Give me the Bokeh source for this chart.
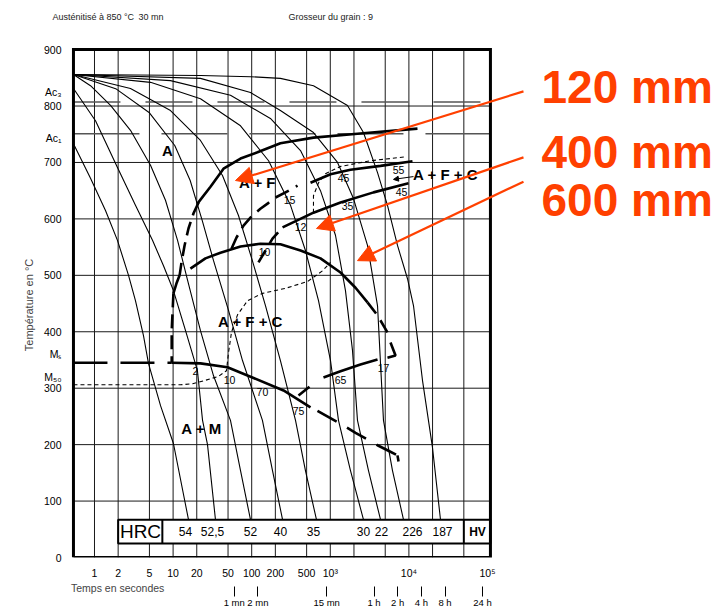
from bokeh.plotting import figure
from bokeh.models import Range1d, FixedTicker, LogAxis, Label, Arrow, NormalHead
from bokeh.core.properties import value
from bokeh.embed import file_html
from bokeh.resources import INLINE

FONT = "Liberation Sans"
RED = "#FF4000"
NBSP = "\u00a0"

# ---------------- data ----------------
# chart box (time s, temperature °C)
t_min, t_max = 0.54, 1.09e5
T_min, T_max = 0, 900

# cooling curves (time s, temperature °C), named by final hardness
c54_t = [0.54, 0.89, 1.38, 1.96, 2.71, 3.32, 4.20, 4.86, 6.92, 10.1, 15.7]
c54_T = [733, 672, 615, 562, 500, 455, 393, 344, 269, 202, 67]
c525_t = [0.54, 1.03, 1.96, 3.32, 5.47, 7.55, 10.1, 14.4, 20.4, 23.7, 27.4, 34.6]
c525_T = [831, 774, 691, 624, 562, 517, 473, 402, 331, 243, 200, 67]
c52_t = [0.54, 0.89, 1.6, 2.87, 5.16, 8.0, 11.4, 15.3, 22.3, 32.7, 53.7, 72.1, 96.5]
c52_T = [856, 836, 801, 757, 695, 633, 562, 491, 402, 322, 243, 154, 67]
c40_t = [0.54, 1.9, 5.0, 10.5, 16.5, 23.5, 32.7, 50.7, 76.4, 137, 184, 247]
c40_T = [856, 830, 788, 730, 668, 597, 526, 438, 349, 243, 154, 67]
c35_t = [0.54, 2.87, 9.27, 22.3, 42.5, 67.9, 102, 150, 232, 361, 483, 667]
c35_T = [856, 831, 792, 739, 677, 606, 526, 446, 349, 243, 154, 67]
c30_t = [0.54, 5.16, 22.3, 72.1, 164, 312, 483, 708, 1006, 1271, 1807, 2643]
c30_T = [856, 842, 813, 765, 703, 624, 544, 455, 349, 243, 154, 67]
c22_t = [0.54, 9.27, 53.7, 173, 418, 750, 1164, 1560, 1916, 2218, 3062, 4355]
c22_T = [856, 845, 819, 778, 721, 650, 571, 473, 367, 243, 154, 67]
c226_t = [0.54, 22.3, 96.5, 232, 611, 1236, 1973, 2974, 3990, 4750, 6185, 8536]
c226_T = [856, 849, 824, 792, 753, 700, 636, 553, 446, 243, 154, 67]
c187_t = [0.54, 22.3, 96.5, 232, 611, 1655, 2643, 3990, 5340, 7160, 9600, 11450, 14890, 19950, 25240]
c187_T = [856, 854, 852, 849, 836, 801, 753, 682, 624, 553, 494, 446, 314, 195, 67]
cooling = [(c54_t, c54_T), (c525_t, c525_T), (c52_t, c52_T), (c40_t, c40_T), (c35_t, c35_T),
           (c30_t, c30_T), (c22_t, c22_T), (c226_t, c226_T), (c187_t, c187_T)]

# transformation curves
fs_t = [20.4, 29.9, 43.8, 72.1, 118.5, 232, 611, 2218, 12860]
fs_T = [627, 657, 689, 707, 718, 734, 744, 751, 760]
nose_a_t = [21.1, 18.2, 15.7, 14.0, 12.8, 12.1]
nose_a_T = [629, 610, 583, 553, 523, 500]
nose_b_t = [12.1, 11.0, 10.1]
nose_b_T = [500, 485, 468]
nose_c_t = [10.1, 9.6, 9.6]
nose_c_T = [468, 402, 345]
b10_t = [16.6, 25.8, 40.1, 72.1, 129, 232, 418, 750, 1349, 2094, 2974]
b10_T = [512, 530, 540, 551, 556, 555, 544, 530, 505, 478, 452]
b10d_t = [2974, 3990, 5340]
b10d_T = [452, 429, 399]
corner_t = [5834, 6760, 5340]
corner_T = [381, 358, 354]
ms_dash_t = [0.54, 9.6]
ms_dash_T = [345, 345]
ms_t = [9.6, 22.3, 49.2, 102, 254, 560]
ms_T = [345, 344, 337, 319, 296, 266]
ms_tail_t = [687, 1349, 2094, 4105, 5340, 7160]
ms_tail_T = [260, 237, 221, 198, 190, 181]
ms_end_t = [7160, 7380]
ms_end_T = [181, 170]
c65d_t = [394, 611]
c65d_T = [287, 308]
c65_t = [819, 1349, 2421, 3990]
c65_T = [319, 330, 342, 351]
m50_t = [0.54, 12.4, 17.7, 25.8, 37.8, 47.8, 50.7, 55.3, 66, 88.5, 137, 269, 513, 796, 1006]
m50_T = [306, 306, 308, 314, 321, 331, 363, 399, 430, 455, 468, 477, 489, 508, 523]
pf_t = [611, 611, 708, 869, 1349, 3244, 9060]
pf_T = [611, 641, 664, 680, 693, 703, 710]
f15_t = [55.3, 64.1, 78.7, 102, 129, 159, 189, 269, 383]
f15_T = [547, 567, 588, 606, 618, 627, 636, 647, 659]
c12d_t = [122, 150, 184, 247]
c12d_T = [523, 544, 565, 585]
c12_t = [247, 611, 1349, 3548, 9890]
c12_T = [585, 611, 629, 647, 663]
c45_t = [560, 1006, 1807, 4355, 11110]
c45_T = [664, 679, 687, 694, 702]

# critical points
ac3_T = 807
ac1_T = 751

# small percentage labels inside the diagram
pct_t = [146, 303, 418, 1472, 1655, 7380, 8050, 19.3, 52.2, 137, 394, 1349, 4750]
pct_T = [542, 633, 585, 672, 622, 687, 647, 331, 315, 294, 260, 314, 335]
pct_txt = ["10", "15", "12", "45", "35", "55", "45", "2", "10", "70", "75", "65", "17"]

# phase region labels
reg_t = [8.49, 118.5, 29240, 96.5, 23]
reg_T = [721, 664, 679, 418, 229]
reg_txt = ["A", "A + F", "A + F + C", "A + F + C", "A + M"]

# hardness row
hrc_left, hrc_right, hrc_bottom, hrc_top = 2.0, 1.09e5, 25, 67
hrc_sep_t = [7.3, 50000]
hard_t = [14.4, 31.7, 96.5, 232, 611, 2643, 4480, 11110, 26740]
hard_txt = ["54", "52,5", "52", "40", "35", "30", "22", "226", "187"]
hard_y = 46

# axes / grid
x_ticks = [1, 2, 5, 10, 20, 50, 100, 200, 500, 1000, 10000, 100000]
x_tick_txt = ["1", "2", "5", "10", "20", "50", "100", "200", "500", "10³", "10⁴", "10⁵"]
x_grid = [1, 2, 5, 10, 20, 50, 100, 200, 500, 1000, 2000, 5000, 10000, 20000, 50000]
y_grid = [100, 200, 300, 400, 500, 600, 700, 800]
time_ticks = [60, 120, 900, 3600, 7200, 14400, 28800, 86400]
time_txt = ["1 mn", "2 mn", "15 mn", "1 h", "2 h", "4 h", "8 h", "24 h"]
y_ticks = [0, 100, 200, 300, 400, 500, 600, 700, 800, 900]
y_special = [824, 744, 361, 319]
y_special_txt = ["Ac₃", "Ac₁", "Mₛ", "M₅₀"]

# header
head_t = [0.292, 3.63, 294]
head_txt = ["Austénitisé à 850 °C", "30 mn", "Grosseur du grain : 9"]
head_T = 958

# red annotations: start (t, T) -> tip (t, T)
arr_t0 = [2.87e5, 2.87e5, 2.87e5]
arr_T0 = [826, 709, 666]
arr_t1 = [62.2, 667, 2218]
arr_T1 = [668, 583, 526]
big_txt = ["120 mm", "400 mm", "600 mm"]
big_t = [4.86e5, 4.86e5, 4.86e5]
big_T = [834, 719, 634]

# ---------------- figure ----------------
p = figure(width=724, height=610, x_axis_type="log",
           x_range=Range1d(0.2756, 1.036e8), y_range=Range1d(0, 987),
           output_backend="svg", toolbar_location=None,
           min_border_left=50, min_border_right=0, min_border_top=0, min_border_bottom=53)
p.background_fill_color = "white"
p.border_fill_color = "white"
p.outline_line_color = None
p.grid.grid_line_color = None

xa = p.xaxis[0]
xa.ticker = FixedTicker(ticks=x_ticks)
xa.major_label_overrides = {k: v for k, v in zip(x_ticks, x_tick_txt)}
xa.axis_line_color = None
xa.major_tick_out = 0
xa.major_tick_in = 0
xa.minor_tick_out = 0
xa.minor_tick_in = 0
xa.major_label_standoff = 9
xa.major_label_text_font = FONT
xa.major_label_text_font_size = "10.5px"
xa.major_label_text_color = "black"
xa.axis_label = "Temps en secondes" + NBSP * 185
xa.axis_label_text_font = FONT
xa.axis_label_text_font_size = "10.5px"
xa.axis_label_text_font_style = "normal"
xa.axis_label_standoff = 0

xa2 = LogAxis(ticker=FixedTicker(ticks=time_ticks),
              major_label_overrides={k: v for k, v in zip(time_ticks, time_txt)})
xa2.axis_line_color = None
xa2.major_tick_out = 0
xa2.major_tick_in = 10
xa2.minor_tick_out = 0
xa2.minor_tick_in = 0
xa2.major_tick_line_color = "black"
xa2.major_label_standoff = 0
xa2.major_label_text_font = FONT
xa2.major_label_text_font_size = "9.5px"
xa2.major_label_text_color = "black"
p.add_layout(xa2, "below")

ya = p.yaxis[0]
ya.ticker = FixedTicker(ticks=y_ticks + y_special)
ya.major_label_overrides = {k: v for k, v in zip(y_special, y_special_txt)}
ya.axis_line_color = None
ya.major_tick_out = 0
ya.major_tick_in = 0
ya.minor_tick_out = 0
ya.minor_tick_in = 0
ya.major_label_standoff = -11
ya.major_label_text_font = FONT
ya.major_label_text_font_size = "10.5px"
ya.major_label_text_color = "black"
ya.axis_label = "Température en °C" + NBSP * 17
ya.axis_label_text_font = FONT
ya.axis_label_text_font_size = "11px"
ya.axis_label_text_font_style = "normal"
ya.axis_label_standoff = 6

# grid inside the chart box
p.segment(x0=x_grid, y0=[T_min] * len(x_grid), x1=x_grid, y1=[T_max] * len(x_grid),
          line_color="#1a1a1a", line_width=1)
p.segment(x0=[t_min] * len(y_grid), y0=y_grid, x1=[t_max] * len(y_grid), y1=y_grid,
          line_color="#1a1a1a", line_width=1)

# critical temperature lines
p.line([t_min, t_max], [ac3_T, ac3_T], line_color="#555", line_width=1.5, line_dash="47 25")
p.line([t_min, t_max], [ac1_T, ac1_T], line_color="#555", line_width=1.5, line_dash="66 22")

# cooling curves
for ct, cT in cooling:
    p.line(ct, cT, line_color="black", line_width=1.1)

BOLD = 2.6
p.line(fs_t, fs_T, line_color="black", line_width=BOLD)
p.line(nose_a_t, nose_a_T, line_color="black", line_width=BOLD, line_dash="14 7")
p.line(nose_b_t, nose_b_T, line_color="black", line_width=BOLD)
p.line(nose_c_t, nose_c_T, line_color="black", line_width=BOLD, line_dash="14 7")
p.line(b10_t, b10_T, line_color="black", line_width=BOLD)
p.line(b10d_t, b10d_T, line_color="black", line_width=BOLD, line_dash="14 8")
p.line(corner_t, corner_T, line_color="black", line_width=BOLD)
p.line(ms_dash_t, ms_dash_T, line_color="black", line_width=BOLD, line_dash="34 13")
p.line(ms_t, ms_T, line_color="black", line_width=BOLD)
p.line(ms_tail_t, ms_tail_T, line_color="black", line_width=BOLD, line_dash="22 12")
p.line(ms_end_t, ms_end_T, line_color="black", line_width=BOLD)
p.line(c65d_t, c65d_T, line_color="black", line_width=BOLD, line_dash="14 8")
p.line(c65_t, c65_T, line_color="black", line_width=BOLD)
p.line(f15_t, f15_T, line_color="black", line_width=BOLD, line_dash="15 8")
p.line(c12d_t, c12d_T, line_color="black", line_width=BOLD, line_dash="14 8")
p.line(c12_t, c12_T, line_color="black", line_width=BOLD)
p.line(c45_t, c45_T, line_color="black", line_width=BOLD)
p.line(m50_t, m50_T, line_color="black", line_width=1.1, line_dash="4 3")
p.line(pf_t, pf_T, line_color="black", line_width=1.1, line_dash="4 3")

# small arrow near A+F+C
p.add_layout(Arrow(end=NormalHead(size=5, fill_color="black", line_color="black"),
                   x_start=11450, y_start=675, x_end=6370, y_end=670,
                   line_color="black", line_width=1))

# hardness box
p.quad(left=[hrc_left], right=[hrc_right], bottom=[hrc_bottom], top=[hrc_top],
       fill_color="white", line_color="black", line_width=2)
p.segment(x0=hrc_sep_t, y0=[hrc_bottom] * 2, x1=hrc_sep_t, y1=[hrc_top] * 2,
          line_color="black", line_width=2)
p.text(x=[3.85], y=[hard_y], text=["HRC"], text_font=value(FONT), text_font_size="19px",
       text_align="center", text_baseline="middle", text_color="black")
p.text(x=[74600], y=[hard_y], text=["HV"], text_font=value(FONT), text_font_size="12px",
       text_font_style="bold", text_align="center", text_baseline="middle", text_color="black")
p.text(x=hard_t, y=[hard_y] * len(hard_t), text=hard_txt, text_font=value(FONT),
       text_font_size="12px", text_align="center", text_baseline="middle", text_color="black")

# chart frame
p.line([t_min, t_max, t_max, t_min, t_min], [T_min, T_min, T_max, T_max, T_min],
       line_color="black", line_width=3, line_join="miter")

# labels inside
p.text(x=pct_t, y=pct_T, text=pct_txt, text_font=value(FONT), text_font_size="10.5px",
       text_align="center", text_baseline="middle", text_color="black")
p.text(x=reg_t, y=reg_T, text=reg_txt, text_font=value(FONT), text_font_size="15px",
       text_font_style="bold", text_align="center", text_baseline="middle", text_color="black")

# red arrows and labels
for i in range(3):
    p.add_layout(Arrow(end=NormalHead(size=17, fill_color=RED, line_color=RED),
                       x_start=arr_t0[i], y_start=arr_T0[i], x_end=arr_t1[i], y_end=arr_T1[i],
                       line_color=RED, line_width=2.2))
    p.add_layout(Label(x=big_t[i], y=big_T[i], text=big_txt[i], text_font=FONT,
                       text_font_style="bold", text_font_size="46px", text_color=RED,
                       text_align="left", text_baseline="alphabetic"))

# header texts
for ht, htxt in zip(head_t, head_txt):
    p.add_layout(Label(x=ht, y=head_T, text=htxt, text_font=FONT, text_font_size="9px",
                       text_color="#222", text_align="left", text_baseline="alphabetic"))

open("out.html", "w").write(file_html(p, INLINE))
